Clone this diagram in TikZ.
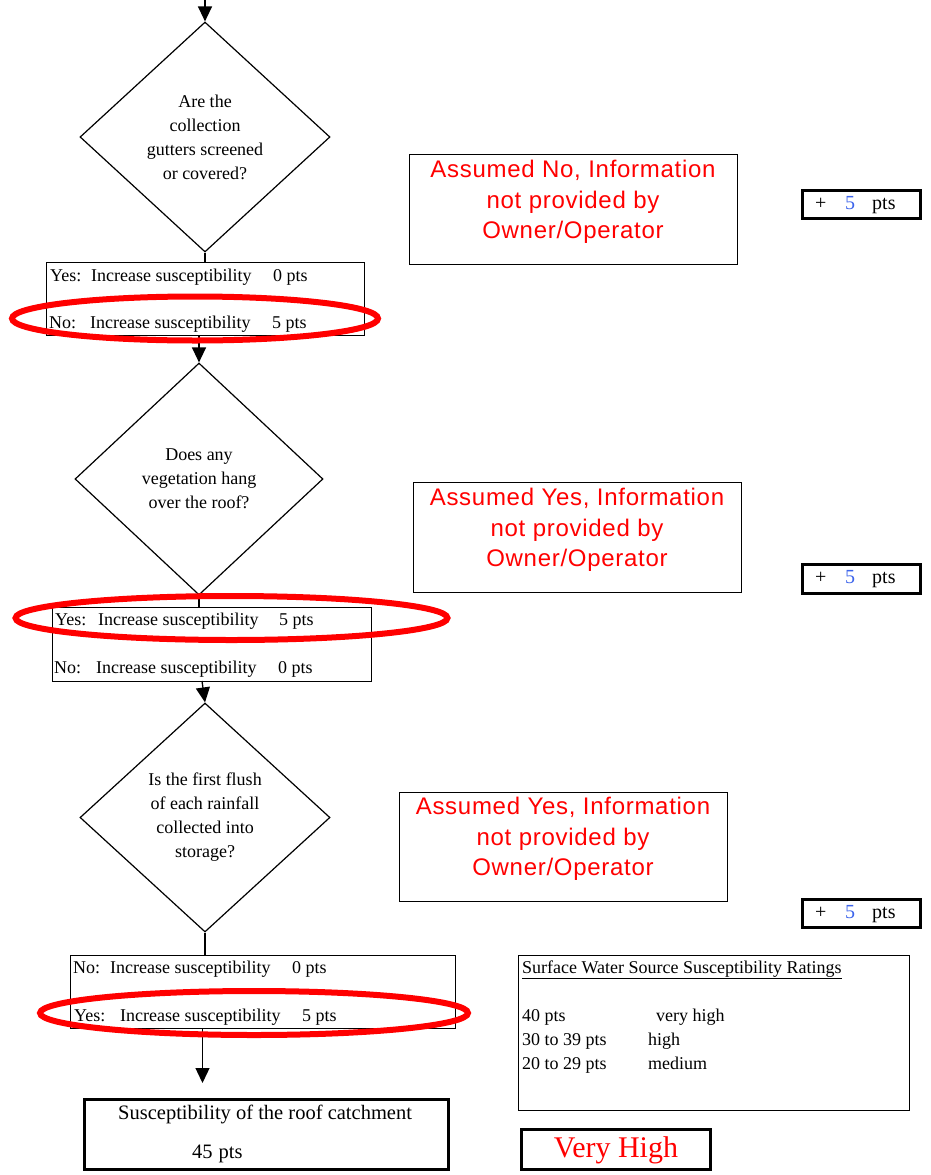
\documentclass[tikz,border=0pt]{standalone}
\usepackage{fontspec}
\setmainfont{Liberation Serif}
\newfontfamily\arialsp[LetterSpace=3]{Liberation Sans}
\usetikzlibrary{arrows.meta,shapes.geometric}
\definecolor{ptblue}{RGB}{60,100,235}
\begin{document}
\begin{tikzpicture}[x=1pt,y=-1pt,
  box/.style={draw, line width=1.2pt, inner sep=0pt, anchor=north west},
  heavybox/.style={draw, line width=3pt, inner sep=0pt, anchor=north west},
  question/.style={draw, line width=1.2pt, shape=diamond, inner sep=0pt, align=center, font=\fontsize{18}{24}\selectfont},
  txt/.style={anchor=base west, inner sep=0pt, font=\fontsize{18}{24}\selectfont},
  bigtxt/.style={anchor=base west, inner sep=0pt, font=\fontsize{20.5}{24}\selectfont},
  ptstxt/.style={anchor=base west, inner sep=0pt, font=\fontsize{20}{24}\selectfont},
  redtxt/.style={inner sep=0pt, align=center, text=red, font=\arialsp\fontsize{24}{30.5}\selectfont},
  ring/.style={draw=red, line width=6pt, shape=ellipse, inner sep=0pt},
  flow/.style={line width=1.3pt},
  arr/.style={line width=1.3pt, -{Triangle[width=14pt,length=15pt]}}
]
\useasboundingbox (0,0) rectangle (930,1175);

% ---------- diamonds
\node[question, minimum width=250pt, minimum height=230pt] (d1) at (205,137)
  {Are the\\collection\\gutters screened\\or covered?};
\node[question, minimum width=248pt, minimum height=232pt] (d2) at (199,479)
  {Does any\\vegetation hang\\over the roof?};
\node[question, minimum width=250pt, minimum height=229pt] (d3) at (205,817.5)
  {Is the first flush\\of each rainfall\\collected into\\storage?};

% ---------- answer boxes
\node[box, minimum width=318pt, minimum height=73pt] (b1) at (46,262) {};
\node[txt] (b1y) at (50,281) {\makebox[41pt][l]{Yes:}\makebox[182pt][l]{Increase susceptibility}0 pts};
\node[txt] (b1n) at (49,328) {\makebox[41pt][l]{No:}\makebox[182pt][l]{Increase susceptibility}5 pts};

\node[box, minimum width=319pt, minimum height=74pt] (b2) at (52,607) {};
\node[txt] (b2y) at (55,625) {\makebox[43pt][l]{Yes:}\makebox[181pt][l]{Increase susceptibility}5 pts};
\node[txt] (b2n) at (54,673) {\makebox[42pt][l]{No:}\makebox[182pt][l]{Increase susceptibility}0 pts};

\node[box, minimum width=385pt, minimum height=73pt] (b3) at (70,955) {};
\node[txt] (b3n) at (73,973) {\makebox[37pt][l]{No:}\makebox[182pt][l]{Increase susceptibility}0 pts};
\node[txt] (b3y) at (74,1021) {\makebox[46pt][l]{Yes:}\makebox[182pt][l]{Increase susceptibility}5 pts};

% ---------- result
\node[heavybox, minimum width=364pt, minimum height=70pt] (res) at (83,1098) {};
\node[bigtxt] (rest) at (118,1119) {Susceptibility of the roof catchment};
\node[bigtxt] (resv) at (192,1158) {45\hspace{6pt}pts};

% ---------- connectors
\coordinate (top) at (d1.north |- 0,0);
\draw[arr] (top) -- (d1.north);
\draw[flow] (d1.south) -- (d1.south |- b1.north);
\draw[arr] (d2.north |- b1.south) -- (d2.north);
\draw[flow] (d2.south) -- (d2.south |- b2.north);
\draw[arr] (202,681) -- (d3.north);
\draw[flow] (d3.south) -- (d3.south |- b3.north);
\coordinate (resin) at (202.5,1083);
\draw[arr] (resin |- b3.south) -- (resin);

% ---------- assumption boxes
\node[box, minimum width=328pt, minimum height=110pt] (a1) at (409,154) {};
\node[redtxt] (a1t) at (573,202) {Assumed No, Information\\not provided by\\Owner/Operator};
\node[box, minimum width=328pt, minimum height=110pt] (a2) at (413,482) {};
\node[redtxt] (a2t) at (577,530) {Assumed Yes, Information\\not provided by\\Owner/Operator};
\node[box, minimum width=328pt, minimum height=109pt] (a3) at (399,792) {};
\node[redtxt] (a3t) at (563,839) {Assumed Yes, Information\\not provided by\\Owner/Operator};

% ---------- points boxes
\node[heavybox, minimum width=118pt, minimum height=28pt] (p1) at (801,189) {};
\node[ptstxt] (p1a) at (815,209) {+};
\node[ptstxt, text=ptblue] (p1b) at (845,209) {5};
\node[ptstxt] (p1c) at (872,209) {pts};
\node[heavybox, minimum width=118pt, minimum height=29pt] (p2) at (801,563) {};
\node[ptstxt] (p2a) at (815,583) {+};
\node[ptstxt, text=ptblue] (p2b) at (845,583) {5};
\node[ptstxt] (p2c) at (872,583) {pts};
\node[heavybox, minimum width=118pt, minimum height=28pt] (p3) at (801,898) {};
\node[ptstxt] (p3a) at (815,918) {+};
\node[ptstxt, text=ptblue] (p3b) at (845,918) {5};
\node[ptstxt] (p3c) at (872,918) {pts};

% ---------- ratings
\node[box, minimum width=391pt, minimum height=155pt] (rt) at (518,955) {};
\node[txt] (rth) at (522,973) {\underline{Surface Water Source Susceptibility Ratings}};
\node[txt] (r1a) at (522,1021) {40 pts};
\node[txt] (r1b) at (656,1021) {very high};
\node[txt] (r2a) at (522,1045) {30 to 39 pts};
\node[txt] (r2b) at (648,1045) {high};
\node[txt] (r3a) at (522,1069) {20 to 29 pts};
\node[txt] (r3b) at (648,1069) {medium};

\node[heavybox, minimum width=189pt, minimum height=40pt] (vh) at (520,1128) {};
\node[anchor=base, inner sep=0pt, text=red, font=\fontsize{30}{34}\selectfont] (vht) at (616,1157) {Very High};

% ---------- highlight rings
\node[ring, minimum width=366pt, minimum height=44pt] (e1) at (195,318.5) {};
\node[ring, minimum width=432pt, minimum height=44pt] (e2) at (231.5,618) {};
\node[ring, minimum width=428pt, minimum height=44pt] (e3) at (254,1013) {};
\end{tikzpicture}
\end{document}
